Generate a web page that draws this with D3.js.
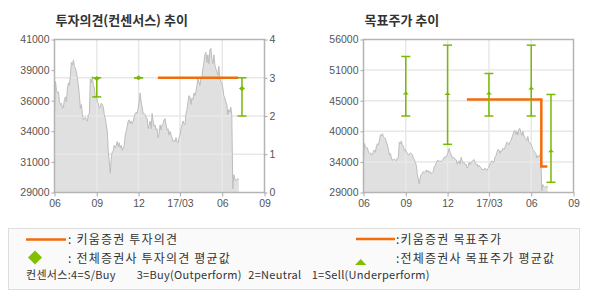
<!DOCTYPE html>
<html>
<head>
<meta charset="utf-8">
<script src="https://cdn.jsdelivr.net/npm/d3@7"></script>
<style>
    body { margin: 0; background: #fff; }
    svg text { font-family: "Liberation Sans", Arial, sans-serif; }
    svg .kr { font-family: "Noto Sans CJK KR", sans-serif; }
</style>
</head>
<body>
<svg id="chart" width="590" height="300"></svg>
<script>
// share price, one value per sample between priceStart and priceEnd
const priceStart = '2016-06-01';
const priceEnd = '2017-07-07';
const prices = [
    35100, 37700, 37000, 36800, 36900, 36100, 35900, 36000, 35600, 35700,
    36300, 36500, 36100, 37200, 37600, 37400, 38200, 39200, 39000, 39400,
    38900, 38700, 38500, 37900, 37400, 36600, 35600, 35900, 35100, 34700,
    34800, 34900, 34700, 34600, 35100, 35200, 37900, 37600, 38100, 37400,
    37200, 36400, 36600, 36100, 36000, 35600, 35700, 36000, 35900, 35700,
    35100, 34800, 34300, 33800, 32200, 31400, 30500, 31700, 32200, 32300,
    32700, 32500, 32700, 33000, 32600, 32900, 32500, 32700, 32300, 32500,
    32700, 33500, 33800, 34200, 34600, 34700, 34400, 34600, 34400, 34600,
    34900, 35200, 35300, 35200, 35600, 36100, 36800, 36100, 35700, 35200,
    35200, 35100, 34900, 34800, 34000, 34300, 34600, 34000, 35200, 34600,
    34200, 34300, 33900, 34000, 33300, 33600, 34300, 33900, 34300, 34400,
    34700, 34800, 34300, 33900, 34000, 33500, 33800, 33500, 33300, 33000,
    33100, 33000, 33300, 33000, 32900, 33300, 33500, 34000, 34300, 34600,
    34400, 34300, 35200, 35500, 36100, 36600, 36500, 35900, 36400, 36300,
    36800, 36600, 36900, 37400, 37900, 37700, 37400, 37900, 38100, 38700,
    39200, 39800, 40000, 39200, 39800, 39100, 40200, 40300, 39500, 39100,
    39800, 39000, 38700, 38500, 38200, 38900, 37900, 37700, 37600, 37200,
    36600, 36400, 36100, 35900, 35100, 35500, 35300, 35700, 35100, 29300,
    30400, 30100, 29900, 30000, 30100, 30000
];

const xTickDates = ['2016-06-01', '2016-09-01', '2016-12-01', '2017-03-01', '2017-06-01', '2017-09-01'];
const xTickLabels = ['06', '09', '12', '17/03', '06', '09'];

const opinionPriceLabels = ['29000', '31000', '34000', '36000', '39000', '41000'];
const targetPriceLabels = ['29000', '34000', '40000', '45000', '51000', '56000'];
const opinionLevels = [0, 1, 2, 3, 4];

// 키움증권 투자의견 / 목표주가 (step lines)
const opinionDates = ['2017-01-12', '2017-07-06'];
const opinionValues = [3, 3];
const targetDates = ['2017-01-12', '2017-06-23', '2017-07-06'];
const targetValues = [45400, 33600, 33600];

// 전체증권사 consensus: min / max / mean
const consDates = ['2016-09-01', '2016-12-01', '2017-07-14'];
const consMin = [2.5, 3, 2];
const consMax = [3, 3, 3];
const consMean = [2.98, 3, 2.72];

const tgtDates = ['2016-09-01', '2016-12-01', '2017-03-01', '2017-06-01', '2017-07-14'];
const tgtMin = [42500, 37500, 42500, 42500, 30800];
const tgtMax = [53000, 55000, 50000, 55000, 46300];
const tgtMean = [46500, 46400, 46500, 47400, 36300];

const ORANGE = '#f26c0a';
const GREEN = '#78ba00';
const GRID = '#e8e8e8';

const parse = d3.timeParse('%Y-%m-%d');
const svg = d3.select('#chart');

const plotTop = 39.5;
const plotBottom = 192.5;
const plotWidth = 210;

const t0 = parse(priceStart).getTime();
const t1 = parse(priceEnd).getTime();
const priceSeries = prices.map((v, i) => ({
    date: new Date(t0 + (t1 - t0) * i / (prices.length - 1)),
    value: v
}));

const styleAxis = (g, color) => {
    g.select('.domain').remove();
    g.selectAll('.tick line').attr('stroke', '#aaa');
    g.selectAll('.tick text').attr('fill', color).attr('font-size', 10.5);
};

const drawPanel = (left, priceDomain, priceLabels, title, hLines) => {
    const g = svg.append('g');
    const x = d3.scaleTime()
        .domain([parse(xTickDates[0]), parse(xTickDates[xTickDates.length - 1])])
        .range([left, left + plotWidth]);
    const y = d3.scaleLinear().domain(priceDomain).range([plotBottom, plotTop]);

    g.append('text')
        .attr('class', 'kr')
        .attr('x', left + 1)
        .attr('y', 25)
        .attr('font-size', 13)
        .attr('font-weight', 'bold')
        .attr('fill', '#333')
        .text(title);

    g.append('path')
        .datum(priceSeries)
        .attr('fill', '#e0e0e0')
        .attr('d', d3.area().x(d => x(d.date)).y0(plotBottom).y1(d => y(d.value)));

    // grid on top of the fill
    g.selectAll('.vgrid')
        .data(xTickDates.slice(1, -1))
        .enter()
        .append('line')
        .attr('x1', d => x(parse(d)))
        .attr('x2', d => x(parse(d)))
        .attr('y1', plotTop)
        .attr('y2', plotBottom)
        .attr('stroke', GRID)
        .attr('stroke-width', 1.5);

    g.selectAll('.hgrid')
        .data(hLines)
        .enter()
        .append('line')
        .attr('x1', left)
        .attr('x2', left + plotWidth)
        .attr('y1', d => d)
        .attr('y2', d => d)
        .attr('stroke', GRID)
        .attr('stroke-width', 1.5);

    g.append('path')
        .datum(priceSeries)
        .attr('fill', 'none')
        .attr('stroke', '#bdbdbd')
        .attr('stroke-width', 1)
        .attr('d', d3.line().x(d => x(d.date)).y(d => y(d.value)));

    g.append('rect')
        .attr('x', left)
        .attr('y', plotTop)
        .attr('width', plotWidth)
        .attr('height', plotBottom - plotTop)
        .attr('fill', 'none')
        .attr('stroke', '#b4b4b4')
        .attr('stroke-width', 1.5);

    const [lo, hi] = priceDomain;
    g.append('g')
        .attr('transform', `translate(${left},0)`)
        .call(d3.axisLeft(y)
            .tickValues(d3.range(6).map(i => lo + i * (hi - lo) / 5))
            .tickFormat((d, i) => priceLabels[i])
            .tickSize(3)
            .tickPadding(2))
        .call(a => styleAxis(a, '#555'));

    g.append('g')
        .attr('transform', `translate(0,${plotBottom})`)
        .call(d3.axisBottom(x)
            .tickValues(xTickDates.map(parse))
            .tickFormat((d, i) => xTickLabels[i])
            .tickSize(4)
            .tickPadding(3))
        .call(a => styleAxis(a, '#555'));

    return { g, x, y };
};

const errorBars = (g, x, y, dates, mins, maxs, means, marker) => {
    const bar = g.selectAll('.err')
        .data(dates.map((d, i) => ({ date: parse(d), min: mins[i], max: maxs[i], mean: means[i] })))
        .enter()
        .append('g')
        .attr('transform', d => `translate(${x(d.date)},0)`);

    bar.append('line')
        .attr('y1', d => y(d.min))
        .attr('y2', d => y(d.max))
        .attr('stroke', GREEN)
        .attr('stroke-width', 1.5);

    ['min', 'max'].forEach(k => {
        bar.append('line')
            .attr('x1', -4.5)
            .attr('x2', 4.5)
            .attr('y1', d => y(d[k]))
            .attr('y2', d => y(d[k]))
            .attr('stroke', GREEN)
            .attr('stroke-width', 1.5);
    });

    bar.append('path')
        .attr('transform', d => `translate(0,${y(d.mean)})`)
        .attr('d', marker)
        .attr('fill', GREEN);
};

// left: 투자의견
const left = drawPanel(54.5, [29000, 41000], opinionPriceLabels, '투자의견(컨센서스) 추이',
    opinionLevels.slice(1, -1).map(v => plotBottom - v * (plotBottom - plotTop) / 4));
const yOp = d3.scaleLinear().domain([0, 4]).range([plotBottom, plotTop]);

left.g.append('g')
    .attr('transform', `translate(${54.5 + plotWidth},0)`)
    .call(d3.axisRight(yOp).tickValues(opinionLevels).tickFormat(d3.format('d')).tickSize(3).tickPadding(2))
    .call(a => styleAxis(a, '#555'));

left.g.append('path')
    .datum(opinionDates.map((d, i) => ({ date: parse(d), value: opinionValues[i] })))
    .attr('fill', 'none')
    .attr('stroke', ORANGE)
    .attr('stroke-width', 2.5)
    .attr('d', d3.line().curve(d3.curveStepAfter).x(d => left.x(d.date)).y(d => yOp(d.value)));

errorBars(left.g, left.x, yOp, consDates, consMin, consMax, consMean, 'M0,-2.5L3,0L0,2.5L-3,0Z');

// right: 목표주가
const right = drawPanel(363.5, [29000, 56000], targetPriceLabels, '목표주가 추이',
    d3.range(1, 5).map(i => plotBottom - i * (plotBottom - plotTop) / 5));

right.g.append('path')
    .datum(targetDates.map((d, i) => ({ date: parse(d), value: targetValues[i] })))
    .attr('fill', 'none')
    .attr('stroke', ORANGE)
    .attr('stroke-width', 2.5)
    .attr('d', d3.line().curve(d3.curveStepAfter).x(d => right.x(d.date)).y(d => right.y(d.value)));

errorBars(right.g, right.x, right.y, tgtDates, tgtMin, tgtMax, tgtMean, 'M-3,1.2L0,-1.8L3,1.2Z');

// legend
const legend = svg.append('g');
legend.append('rect')
    .attr('x', 8.5)
    .attr('y', 228.5)
    .attr('width', 571)
    .attr('height', 61)
    .attr('fill', '#fafafa')
    .attr('stroke', '#dedede');

const legendText = (x, y, text, size) => legend.append('text')
    .attr('class', 'kr')
    .attr('x', x)
    .attr('y', y)
    .attr('font-size', size)
    .attr('letter-spacing', 1.2)
    .attr('fill', '#333')
    .text(text);

legend.append('line').attr('x1', 26).attr('x2', 66).attr('y1', 239.5).attr('y2', 239.5)
    .attr('stroke', ORANGE).attr('stroke-width', 2.5);
legendText(68, 244, ': 키움증권 투자의견', 12);
legend.append('path').attr('d', 'M35,250.5L42,257.5L35,264.5L28,257.5Z').attr('fill', '#80c000');
legendText(68, 263, ': 전체증권사 투자의견 평균값', 12);

legend.append('line').attr('x1', 356).attr('x2', 395).attr('y1', 239).attr('y2', 239)
    .attr('stroke', ORANGE).attr('stroke-width', 2.5);
legendText(396, 244, ':키움증권 목표주가', 12);
legend.append('path').attr('d', 'M355,265L360.7,259L366.4,265Z').attr('fill', '#80c000');
legendText(396, 263, ':전체증권사 목표주가 평균값', 12);

const consensusKey = ['컨센서스:4=S/Buy', '3=Buy(Outperform)', '2=Neutral', '1=Sell(Underperform)'];
const consensusKeyX = [26, 136.7, 248.3, 311.7];
consensusKey.forEach((t, i) => legendText(consensusKeyX[i], 279, t, 11).attr('letter-spacing', 0.3));
</script>
</body>
</html>
